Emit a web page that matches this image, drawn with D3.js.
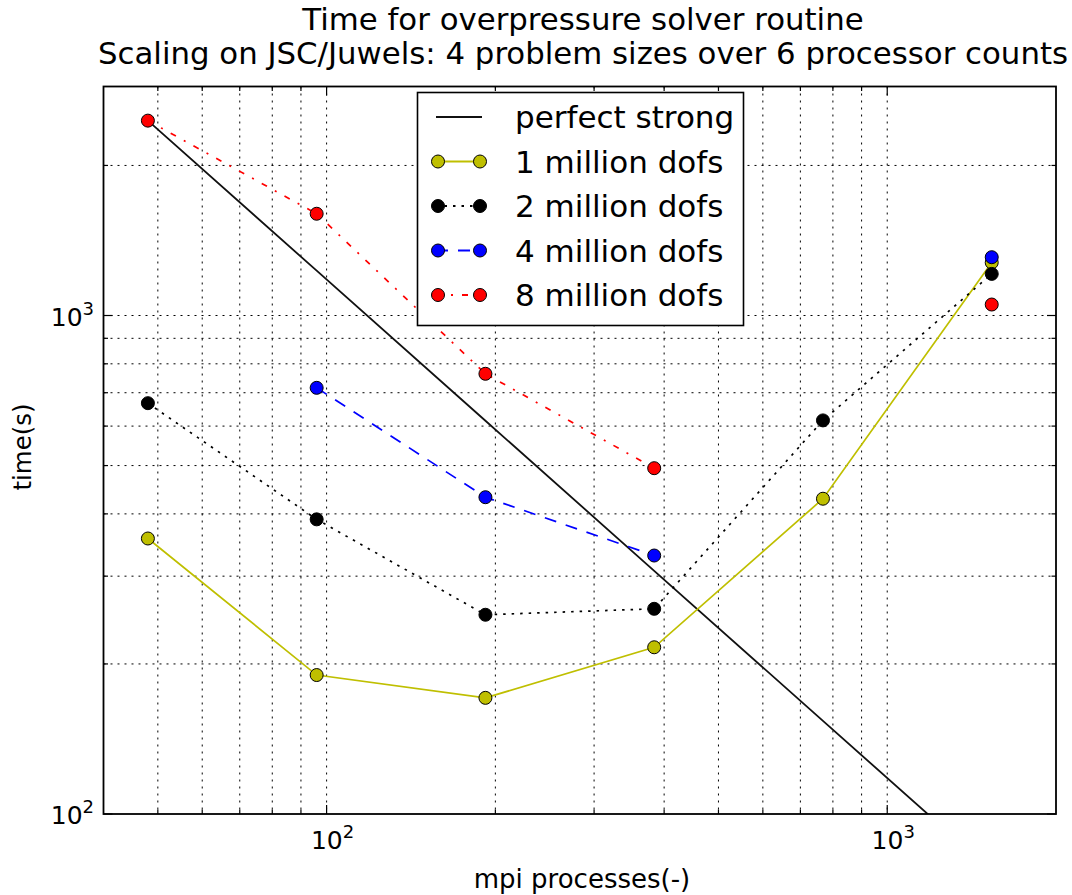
<!DOCTYPE html>
<html><head><meta charset="utf-8">
<script src="https://cdn.jsdelivr.net/npm/d3@7"></script>
<style>body{margin:0;background:#fff} text{font-family:"DejaVu Sans",sans-serif;fill:#000}</style>
</head><body><svg id="c" width="1072" height="895"></svg>
<script>
// ---- data ----
const procs = [48, 96, 192, 384, 768, 1536];
const dofs1M = [357, 190, 171, 216, 429, 1277];
const dofs2M = [667, 390, 251, 258, 616, 1212];
const dofs4M = [null, 716, 432, 330, null, 1309];
const dofs8M = [2460, 1600, 764, 494, null, 1052];
const seriesLabels = ["perfect strong", "1 million dofs", "2 million dofs", "4 million dofs", "8 million dofs"];
const titleLines = ["Time for overpressure solver routine", "Scaling on JSC/Juwels: 4 problem sizes over 6 processor counts"];
const xLabel = "mpi processes(-)";
const yLabel = "time(s)";
const xMajor = [100, 1000];
const xMinor = [50, 60, 70, 80, 90, 200, 300, 400, 500, 600, 700, 800, 900];
const yMajor = [100, 1000];
const yMinor = [200, 300, 400, 500, 600, 700, 800, 900, 2000];
const xDomain = [40, 2000];
const yDomain = [100, 2880];
// perfect strong scaling from the 8M run at the smallest count
const perfect = procs.map(p => dofs8M[0] * procs[0] / p);

// ---- layout ----
const L = 103.5, R = 1056, T = 86.5, B = 814;
const svg = d3.select("#c");
const x = d3.scaleLog().domain(xDomain).range([L, R]);
const y = d3.scaleLog().domain(yDomain).range([B, T]);

svg.append("defs").append("clipPath").attr("id", "clip")
  .append("rect").attr("x", L).attr("y", T).attr("width", R - L).attr("height", B - T);

// grid
const grid = svg.append("g").attr("stroke", "#000").attr("stroke-width", 1)
  .attr("stroke-dasharray", "2,5").attr("fill", "none");
xMajor.concat(xMinor).forEach(v => {
  grid.append("line").attr("x1", x(v)).attr("x2", x(v)).attr("y1", T).attr("y2", B);
});
yMajor.concat(yMinor).forEach(v => {
  if (v <= yDomain[0]) return;
  grid.append("line").attr("y1", y(v)).attr("y2", y(v)).attr("x1", L).attr("x2", R);
});

// ticks (inside, all four sides)
const ticks = svg.append("g").attr("stroke", "#000").attr("stroke-width", 1.2);
function xt(v, len) {
  ticks.append("line").attr("x1", x(v)).attr("x2", x(v)).attr("y1", B).attr("y2", B - len);
  ticks.append("line").attr("x1", x(v)).attr("x2", x(v)).attr("y1", T).attr("y2", T + len);
}
function yt(v, len) {
  ticks.append("line").attr("y1", y(v)).attr("y2", y(v)).attr("x1", L).attr("x2", L + len);
  ticks.append("line").attr("y1", y(v)).attr("y2", y(v)).attr("x1", R).attr("x2", R - len);
}
xMajor.forEach(v => xt(v, 9)); xMinor.forEach(v => xt(v, 4.5));
yMajor.forEach(v => yt(v, 9)); yMinor.forEach(v => yt(v, 4.5));

// tick labels
function powLabel(g, v, px, py, anchor) {
  const e = Math.round(Math.log10(v));
  const t = g.append("text").attr("x", px).attr("y", py).attr("text-anchor", anchor).attr("font-size", 25);
  t.append("tspan").text("10");
  t.append("tspan").attr("dy", -11).attr("font-size", 18).text(String(e));
}
xMajor.forEach(v => powLabel(svg, v, x(v) + 6, 849, "middle"));
yMajor.forEach(v => powLabel(svg, v, 94, y(v) + 10, "end"));

// series
const plot = svg.append("g").attr("clip-path", "url(#clip)");
const line = d3.line().defined(d => d[1] != null).x(d => x(d[0])).y(d => y(d[1]));
const series = [
  {vals: dofs1M, color: "#bfbf00", dash: null},
  {vals: dofs2M, color: "#000000", dash: "2.5,6"},
  {vals: dofs4M, color: "#0000ff", dash: "12,10"},
  {vals: dofs8M, color: "#ff0000", dash: "6,9,2,9"}
];
plot.append("path").datum(procs.map((p, i) => [p, perfect[i]]))
  .attr("d", line).attr("fill", "none").attr("stroke", "#111").attr("stroke-width", 1.8);
series.forEach(s => {
  const pts = procs.map((p, i) => [p, s.vals[i]]);
  plot.append("path").datum(pts).attr("d", line).attr("fill", "none")
    .attr("stroke", s.color).attr("stroke-width", 1.7)
    .attr("stroke-dasharray", s.dash);
  const g = svg.append("g");
  pts.filter(d => d[1] != null).forEach(d => {
    g.append("circle").attr("cx", x(d[0])).attr("cy", y(d[1])).attr("r", 6.5)
      .attr("fill", s.color).attr("stroke", "#000").attr("stroke-width", 1);
  });
});

// frame
svg.append("rect").attr("x", L).attr("y", T).attr("width", R - L).attr("height", B - T)
  .attr("fill", "none").attr("stroke", "#000").attr("stroke-width", 1.8);

// titles
titleLines.forEach((t, i) => {
  svg.append("text").attr("x", 583).attr("y", 30 + i * 34).attr("text-anchor", "middle")
    .attr("font-size", 30.8).text(t);
});
svg.append("text").attr("x", 582).attr("y", 888).attr("text-anchor", "middle").attr("font-size", 26).text(xLabel);
svg.append("text").attr("transform", "translate(31,447) rotate(-90)").attr("text-anchor", "middle")
  .attr("font-size", 24.5).text(yLabel);

// legend
const lg = svg.append("g");
lg.append("rect").attr("x", 417.5).attr("y", 92.5).attr("width", 326).attr("height", 233)
  .attr("fill", "#fff").attr("stroke", "#000").attr("stroke-width", 1.6);
const legendStyles = [{color: "#111", dash: null, marker: false}].concat(series.map(s => ({color: s.color, dash: s.dash, marker: true})));
seriesLabels.forEach((lab, i) => {
  const cy = 117 + i * 44.5;
  const st = legendStyles[i];
  lg.append("line").attr("x1", 436).attr("x2", 482).attr("y1", cy).attr("y2", cy)
    .attr("stroke", st.color).attr("stroke-width", 1.8).attr("stroke-dasharray", st.dash);
  if (st.marker) {
    [438, 480].forEach(cx => lg.append("circle").attr("cx", cx).attr("cy", cy).attr("r", 6.5)
      .attr("fill", st.color).attr("stroke", "#000").attr("stroke-width", 1));
  }
  lg.append("text").attr("x", 515).attr("y", cy + 11).attr("font-size", 31).text(lab);
});
</script></body></html>
